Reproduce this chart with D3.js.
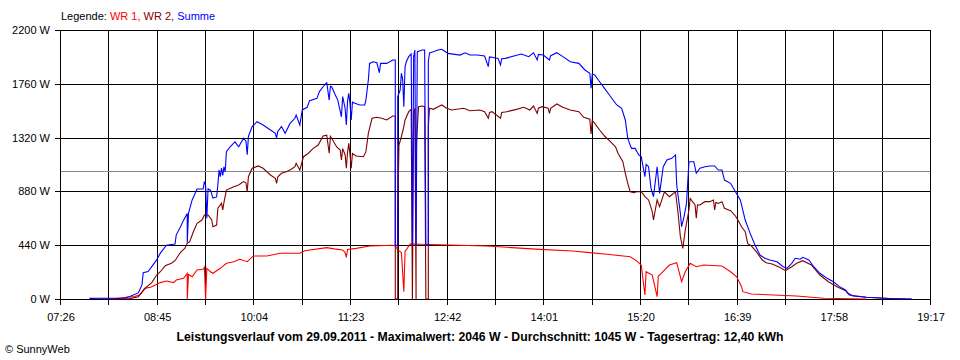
<!DOCTYPE html>
<html><head><meta charset="utf-8">
<script src="https://cdn.jsdelivr.net/npm/d3@7"></script>
<style>
html,body{margin:0;padding:0;background:#fff;}
svg text{font-family:"Liberation Sans",Arial,sans-serif;}
</style></head>
<body><svg id="c" width="960" height="360"></svg>
<script>
// ---- data (time of day, watts) ----
const xTickLabels = ["07:26","08:45","10:04","11:23","12:42","14:01","15:20","16:39","17:58","19:17"];
const yTicks = [0,440,880,1320,1760,2200];
const average = 1045;
const legendItems = [["WR 1,","#ff0000"],[" WR 2,","#800000"],[" Summe","#0000ff"]];
const title = "Leistungsverlauf vom 29.09.2011 - Maximalwert: 2046 W - Durchschnitt: 1045 W - Tagesertrag: 12,40 kWh";

const wr1 = [["08:09",0],["08:20",14],["08:27",20],["08:31",33],["08:34",68],["08:35",87],["08:40",96],["08:44",115],["08:48",134],["08:53",147],["08:59",134],["09:01",155],["09:07",169],["09:10",210],["09:10",0],["09:11",200],["09:14",182],["09:18",237],["09:23",243],["09:24",259],["09:25",0],["09:26",250],["09:29",223],["09:31",210],["09:37",251],["09:42",292],["09:48",305],["09:53",325],["09:59",305],["10:04",352],["10:15",352],["10:26",374],["10:42",374],["10:46",395],["11:04",420],["11:10",410],["11:17",401],["11:19",380],["11:20",341],["11:21",405],["11:28",414],["11:39",434],["11:58",439],["12:00",435],["12:02",401],["12:05",380],["12:07",60],["12:08",390],["12:09",401],["12:12",450],["12:36",444],["13:15",434],["13:31",423],["13:58",406],["14:25",393],["14:39",379],["14:53",366],["15:12",346],["15:17",314],["15:21",278],["15:24",33],["15:25",223],["15:30",196],["15:34",19],["15:35",190],["15:36",196],["15:40",237],["15:44",278],["15:50",297],["15:54",141],["15:57",223],["16:01",292],["16:06",264],["16:12",278],["16:27",270],["16:34",223],["16:39",182],["16:43",101],["16:44",60],["16:51",41],["17:09",33],["17:28",25],["17:50",6],["18:25",0]];

const wr2 = [["07:59",0],["08:23",3],["08:30",19],["08:34",68],["08:37",101],["08:41",134],["08:45",196],["08:48",223],["08:52",272],["08:57",292],["09:00",313],["09:03",360],["09:05",387],["09:08",414],["09:10",455],["09:12",469],["09:15",550],["09:18",619],["09:22",646],["09:24",687],["09:27",687],["09:30",646],["09:31",591],["09:34",605],["09:35",742],["09:38",782],["09:39",728],["09:40",790],["09:42",891],["09:48",918],["09:52",932],["09:56",960],["09:58",950],["09:59",877],["10:00",1000],["10:03",1069],["10:08",1088],["10:12",1069],["10:18",1014],["10:22",987],["10:23",946],["10:24",1000],["10:27",1028],["10:31",1041],["10:35",1061],["10:38",1082],["10:39",1110],["10:42",1055],["10:45",1164],["10:49",1192],["10:53",1232],["10:57",1259],["11:01",1333],["11:04",1339],["11:06",1192],["11:07",1330],["11:08",1314],["11:12",1245],["11:15",1218],["11:16",1137],["11:17",1230],["11:19",1180],["11:20",1069],["11:21",1200],["11:22",1273],["11:23",1180],["11:24",1069],["11:25",1190],["11:28",1170],["11:34",1164],["11:36",1205],["11:38",1355],["11:41",1478],["11:45",1486],["11:49",1478],["11:53",1464],["11:58",1497],["12:00",1497],["12:00",0],["12:02",0],["12:02",662],["12:03",1259],["12:05",1327],["12:07",1410],["12:08",1464],["12:11",1532],["12:13",1551],["12:14",0],["12:15",1518],["12:16",1560],["12:17",0],["12:17",1218],["12:19",1573],["12:22",1578],["12:24",1573],["12:25",0],["12:27",0],["12:27",960],["12:27",1410],["12:28",1560],["12:31",1551],["12:35",1573],["12:38",1587],["12:42",1560],["12:46",1546],["12:56",1560],["13:01",1540],["13:09",1546],["13:13",1532],["13:16",1478],["13:17",1525],["13:19",1532],["13:26",1478],["13:27",1525],["13:31",1532],["13:39",1551],["13:45",1568],["13:50",1546],["13:53",1578],["13:56",1518],["13:57",1560],["14:00",1573],["14:05",1560],["14:06",1518],["14:07",1560],["14:12",1595],["14:17",1568],["14:23",1546],["14:30",1532],["14:34",1486],["14:39",1470],["14:40",1349],["14:41",1460],["14:43",1436],["14:47",1382],["14:51",1333],["14:55",1295],["15:00",1245],["15:02",1192],["15:06",1123],["15:08",1028],["15:10",946],["15:12",877],["15:15",869],["15:17",877],["15:21",877],["15:24",837],["15:27",810],["15:30",714],["15:31",646],["15:34",810],["15:36",755],["15:40",877],["15:44",837],["15:49",877],["15:51",714],["15:53",510],["15:55",414],["15:57",564],["16:00",728],["16:01",823],["16:05",769],["16:06",660],["16:07",770],["16:09",769],["16:13",796],["16:17",796],["16:20",810],["16:21",728],["16:22",790],["16:24",782],["16:27",796],["16:29",742],["16:34",722],["16:38",679],["16:40",646],["16:43",591],["16:46",550],["16:48",455],["16:51",434],["16:55",387],["17:00",319],["17:03",297],["17:08",286],["17:14",259],["17:19",232],["17:24",264],["17:28",292],["17:33",313],["17:40",278],["17:47",196],["17:54",141],["18:01",101],["18:08",68],["18:11",33],["18:25",14],["18:44",4],["18:57",0]];

const summe = [["07:50",5],["08:19",8],["08:23",20],["08:30",50],["08:33",115],["08:34",215],["08:38",225],["08:41",265],["08:45",320],["08:48",375],["08:53",440],["09:00",450],["09:01",525],["09:04",580],["09:07",645],["09:10",700],["09:10",460],["09:11",700],["09:14",810],["09:18",900],["09:23",900],["09:24",960],["09:25",930],["09:26",660],["09:27",900],["09:29",890],["09:31",825],["09:34",835],["09:35",930],["09:36",1055],["09:37",1000],["09:38",1070],["09:39",1010],["09:40",1080],["09:41",1040],["09:42",1205],["09:45",1245],["09:49",1285],["09:52",1245],["09:56",1315],["09:58",1290],["09:59",1180],["10:00",1330],["10:03",1410],["10:07",1450],["10:12",1423],["10:18",1382],["10:22",1355],["10:23",1315],["10:24",1370],["10:27",1410],["10:30",1355],["10:34",1436],["10:38",1478],["10:39",1505],["10:42",1423],["10:44",1546],["10:48",1568],["10:50",1622],["10:56",1641],["10:58",1696],["11:01",1736],["11:04",1769],["11:06",1627],["11:07",1740],["11:08",1736],["11:11",1668],["11:13",1627],["11:16",1490],["11:17",1655],["11:19",1560],["11:20",1423],["11:21",1620],["11:22",1682],["11:23",1600],["11:24",1464],["11:25",1610],["11:27",1600],["11:31",1587],["11:35",1587],["11:36",1627],["11:38",1791],["11:39",1927],["11:42",1940],["11:45",1932],["11:47",1850],["11:48",1927],["11:53",1927],["11:58",1955],["12:00",1955],["12:00",440],["12:02",440],["12:02",1655],["12:04",1709],["12:05",1845],["12:06",1800],["12:07",1573],["12:08",1900],["12:09",1940],["12:11",1982],["12:13",2004],["12:14",440],["12:15",1982],["12:16",2036],["12:17",440],["12:18",2022],["12:22",2036],["12:24",2036],["12:25",440],["12:27",440],["12:27",1940],["12:28",2013],["12:31",2022],["12:35",2036],["12:38",2042],["12:41",2022],["12:43",2009],["12:53",1995],["12:57",2014],["13:01",1995],["13:07",1995],["13:13",1987],["13:16",1900],["13:17",1980],["13:19",1977],["13:24",1968],["13:26",1914],["13:27",1965],["13:30",1968],["13:37",1987],["13:43",2004],["13:49",1982],["13:53",2013],["13:56",1955],["13:57",2000],["14:01",1995],["14:06",1955],["14:07",1990],["14:12",2014],["14:17",1982],["14:23",1940],["14:30",1927],["14:35",1873],["14:39",1845],["14:40",1723],["14:41",1840],["14:43",1832],["14:47",1777],["14:51",1723],["14:55",1668],["15:01",1587],["15:05",1560],["15:08",1464],["15:10",1314],["15:13",1232],["15:16",1232],["15:19",1178],["15:21",1164],["15:24",1000],["15:25",1100],["15:27",1082],["15:29",905],["15:31",837],["15:34",1082],["15:36",864],["15:39",1082],["15:42",1137],["15:46",1150],["15:49",1178],["15:50",932],["15:53",700],["15:54",591],["15:56",673],["15:58",782],["16:00",1123],["16:04",1123],["16:06",1028],["16:09",1069],["16:13",1082],["16:17",1088],["16:21",1088],["16:24",1055],["16:27",1055],["16:29",973],["16:34",946],["16:38",877],["16:42",810],["16:46",646],["16:50",537],["16:54",442],["16:58",360],["17:02",333],["17:06",319],["17:12",305],["17:17",264],["17:20",251],["17:24",292],["17:27",333],["17:31",325],["17:33",341],["17:38",319],["17:42",264],["17:47",210],["17:53",169],["17:58",141],["18:03",101],["18:08",74],["18:10",47],["18:14",25],["18:25",14],["18:44",4],["19:02",2]];

// ---- drawing ----
const toMin = s => { const [h,m] = s.split(":").map(Number); return h*60+m; };
const svg = d3.select("#c");
const t0 = toMin(xTickLabels[0]), t1 = toMin(xTickLabels[xTickLabels.length-1]);
const x = d3.scaleLinear().domain([t0,t1]).range([60,930]);
const y = d3.scaleLinear().domain([0,2200]).range([299,30]);
const px = v => Math.round(v)+0.5;

// vertical grid: labelled ticks and midpoints
const step = (t1-t0)/(xTickLabels.length-1);
const vTicks = d3.range(0,(xTickLabels.length-1)*2+1).map(i => t0 + i*step/2);
const grid = svg.append("g").attr("shape-rendering","crispEdges");
grid.selectAll("line.v").data(vTicks).join("line")
  .attr("x1",d=>px(x(d))).attr("x2",d=>px(x(d)))
  .attr("y1",y(2200)).attr("y2",y(0)+6)
  .attr("stroke","#000").attr("stroke-width",1);
grid.selectAll("line.h").data(yTicks).join("line")
  .attr("x1",55).attr("x2",x(t1)+1)
  .attr("y1",d=>px(y(d))).attr("y2",d=>px(y(d)))
  .attr("stroke","#000").attr("stroke-width",1);
// average line
grid.append("line").attr("x1",x(t0)+1).attr("x2",x(t1))
  .attr("y1",px(y(average))).attr("y2",px(y(average)))
  .attr("stroke","#888").attr("stroke-width",1);

// axis labels
svg.append("g").selectAll("text").data(yTicks).join("text")
  .attr("x",50).attr("y",d=>y(d)+4).attr("text-anchor","end")
  .attr("font-size",11).text(d=>d+" W");
svg.append("g").selectAll("text").data(xTickLabels).join("text")
  .attr("x",d=>x(toMin(d))+1).attr("y",321).attr("text-anchor","middle")
  .attr("font-size",11).text(d=>d);

// series
const line = d3.line().x(d=>x(toMin(d[0]))).y(d=>y(d[1]));
const series = [[wr1,"#ff0000"],[wr2,"#800000"],[summe,"#0000ff"]];
svg.append("g").selectAll("path").data(series).join("path")
  .attr("d",d=>line(d[0])).attr("fill","none")
  .attr("stroke",d=>d[1]).attr("stroke-width",1.1).attr("stroke-linejoin","miter");

// legend
const lg = svg.append("text").attr("x",61).attr("y",20).attr("font-size",11);
lg.append("tspan").attr("fill","#000").text("Legende: ");
legendItems.forEach(([t,c]) => lg.append("tspan").attr("fill",c).text(t));

// title and credit
svg.append("text").attr("x",480).attr("y",341).attr("text-anchor","middle")
  .attr("font-size",12).attr("font-weight","bold")
  .attr("textLength",607).attr("lengthAdjust","spacingAndGlyphs").text(title);
svg.append("text").attr("x",5).attr("y",353).attr("font-size",11).text("© SunnyWeb");
</script></body></html>
